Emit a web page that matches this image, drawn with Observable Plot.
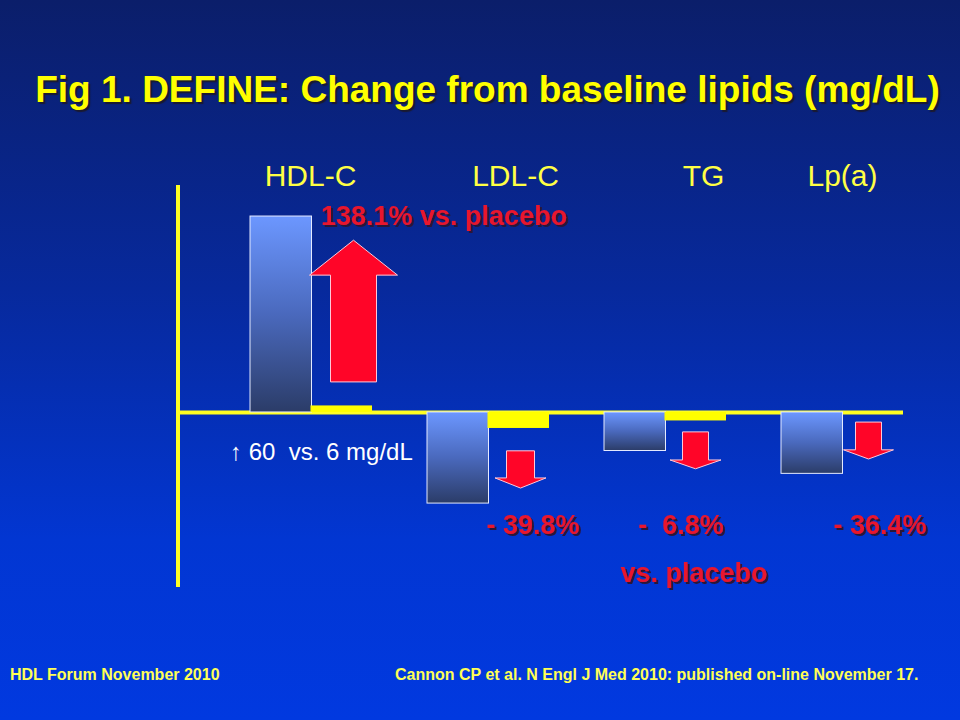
<!DOCTYPE html>
<html><head><meta charset="utf-8">
<script src="https://cdn.jsdelivr.net/npm/d3@7"></script>
<script src="https://cdn.jsdelivr.net/npm/@observablehq/plot@0.6"></script>
<style>
html,body{margin:0;padding:0;}
body{width:960px;height:720px;overflow:hidden;background:linear-gradient(to bottom,#0b1e6a 0%,#07299c 40%,#0236d2 75%,#0139e0 100%);font-family:"Liberation Sans",Arial,sans-serif;}
#title{height:150px;box-sizing:border-box;padding-top:68px;padding-left:15px;text-align:center;color:#ffff00;font-weight:bold;font-size:37px;line-height:44px;text-shadow:2px 2px 1px #1a1a30;white-space:nowrap;}
#chart{height:470px;}
#footer{position:relative;height:100px;color:#ffff55;font-weight:bold;font-size:16px;}
#footer span{position:absolute;top:46px;white-space:nowrap;line-height:18px;}
svg text{white-space:pre;}
svg g[fill="#e8142e"]{filter:url(#redShadow);}
</style></head>
<body>
<div id="title">Fig 1. DEFINE: Change from baseline lipids (mg/dL)</div>
<div id="chart"></div>
<div id="footer"><span style="left:10px">HDL Forum November 2010</span><span style="left:395px">Cannon CP et al. N Engl J Med 2010: published on-line November 17.</span></div>
<script>
// ---- data ----
const categories = ["HDL-C", "LDL-C", "TG", "Lp(a)"];
const anacetrapib = [60, -27.9, -11.8, -18.8];   // mg/dL change
const placebo = [2.0, -4.9, -2.6, 0];
// red arrows (in mg/dL units on the chart's y scale)
const arrowTail = [9.2, -11.9, -6.1, -3.1];
const arrowHeadBase = [41.9, -20.2, -14.7, -11.6];
const arrowTip = [52.6, -23.3, -17.4, -14.4];
// annotations
const noteText = ["138.1% vs. placebo", "- 39.8%", "-  6.8%", "- 36.4%", "vs. placebo", "\u2191 60  vs. 6 mg/dL"];
const noteCategory = ["HDL-C", "LDL-C", "TG", "Lp(a)", "TG", "HDL-C"];
const noteValue = [60, -34.6, -34.6, -34.6, -49.3, -12.2];

// ---- styling ----
const noteDx = [9.5, 44.5, 15.5, 37.5, 28.5, -81.5];
const noteAnchor = ["start", "middle", "middle", "middle", "middle", "start"];
const noteRed = [true, true, true, true, true, false];
const labelDx = [-1, 27, 38, 0];
const arrowNudge = [12, 2, 0, -4];
const shaftHalf = [23, 14, 13, 13];
const headHalf = [44, 25.5, 25.5, 25];

const rowsA = categories.map((c, i) => ({category: c, value: anacetrapib[i]}));
const rowsP = categories.map((c, i) => ({category: c, value: placebo[i]}));
const notes = noteText.map((t, i) => ({text: t, category: noteCategory[i], value: noteValue[i]}));

const defsMark = () => {
  const defs = d3.create("svg:defs");
  const g = defs.append("linearGradient").attr("id", "barGrad")
    .attr("x1", 0).attr("y1", 0).attr("x2", 0).attr("y2", 1);
  g.append("stop").attr("offset", "0%").attr("stop-color", "#6c97ff");
  g.append("stop").attr("offset", "50%").attr("stop-color", "#4a69bd");
  g.append("stop").attr("offset", "100%").attr("stop-color", "#2b3c68");
  const f = defs.append("filter").attr("id", "redShadow")
    .attr("x", "-10%").attr("y", "-30%").attr("width", "130%").attr("height", "170%");
  f.append("feDropShadow").attr("dx", 2).attr("dy", 2).attr("stdDeviation", 0.6)
    .attr("flood-color", "#2a1838").attr("flood-opacity", 1);
  return defs.node();
};

const leftAxis = (index, scales, values, dim) => {
  return d3.create("svg:line")
    .attr("x1", dim.marginLeft + 1).attr("x2", dim.marginLeft + 1)
    .attr("y1", dim.marginTop).attr("y2", dim.height - dim.marginBottom)
    .attr("stroke", "#ffff22").attr("stroke-width", 4).node();
};

const arrowsMark = (index, scales) => {
  const g = d3.create("svg:g");
  const bw = scales.x.bandwidth ? scales.x.bandwidth() : 121;
  categories.forEach((c, i) => {
    const cx = scales.x(c) + bw * 0.75 + arrowNudge[i];
    const yt = scales.y(arrowTail[i]), yb = scales.y(arrowHeadBase[i]), yp = scales.y(arrowTip[i]);
    const s = shaftHalf[i], h = headHalf[i];
    const pts = [[cx - s, yt], [cx + s, yt], [cx + s, yb], [cx + h, yb], [cx, yp], [cx - h, yb], [cx - s, yb]];
    g.append("polygon").attr("points", pts.map(p => p.join(",")).join(" "))
      .attr("fill", "#ff0528").attr("stroke", "#ffc8d8").attr("stroke-width", 1);
  });
  return g.node();
};

const noteMarks = notes.map((n, i) =>
  Plot.text([n], {
    x: "category", y: "value", text: "text", textAnchor: noteAnchor[i], dx: noteDx[i],
    fontSize: noteRed[i] ? 27 : 24, fontWeight: noteRed[i] ? "bold" : "normal",
    fill: noteRed[i] ? "#e8142e" : "#ffffff"
  }));

const labelMarks = categories.map((c, i) =>
  Plot.text([c], {x: d => d, frameAnchor: "top", dy: -21, dx: labelDx[i], text: d => d, fill: "#ffff44", fontSize: 30}));

const chart = Plot.plot({
  width: 960, height: 470,
  marginLeft: 177, marginRight: 57, marginTop: 35, marginBottom: 33,
  style: {background: "transparent", fontFamily: "'Liberation Sans', Arial, sans-serif", overflow: "visible"},
  x: {domain: categories, paddingInner: 0.3125, paddingOuter: 0.205, align: 1, axis: null},
  y: {domain: [-53.6, 69.5], axis: null},
  marks: [
    defsMark,
    Plot.ruleY([0], {stroke: "#ffff22", strokeWidth: 4}),
    leftAxis,
    Plot.barY(rowsA, {x: "category", y: "value", fill: "url(#barGrad)", stroke: "#e4eaff", strokeWidth: 1, insetRight: 60.5}),
    Plot.barY(rowsP, {x: "category", y: "value", fill: "#ffff00", insetLeft: 60.5}),
    arrowsMark,
    ...labelMarks,
    ...noteMarks
  ]
});
document.getElementById("chart").appendChild(chart);
</script>
</body></html>
